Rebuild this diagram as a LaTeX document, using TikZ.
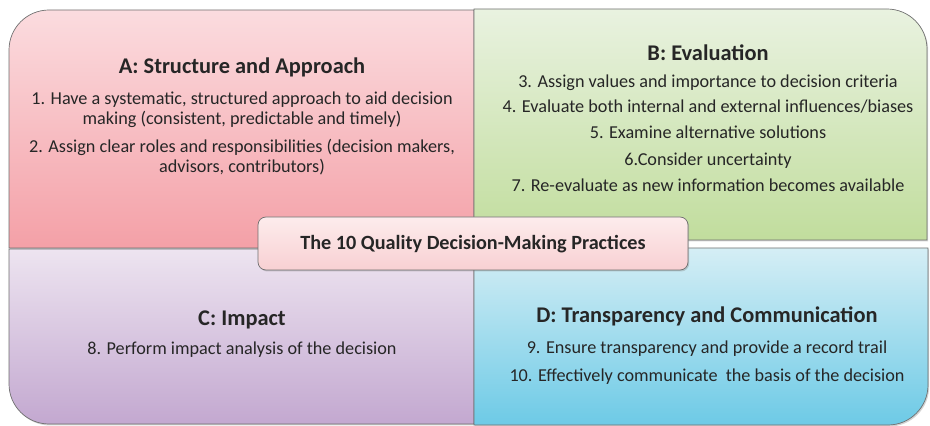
\documentclass[tikz,border=0pt]{standalone}
\usepackage{fontspec}
\setmainfont{Carlito}
\usepackage{tikz}
\usetikzlibrary{shadows}

\definecolor{txt}{HTML}{262626}
\definecolor{edge}{HTML}{6F6F6F}
\definecolor{pinkTop}{HTML}{FBDCDF}
\definecolor{pinkBot}{HTML}{F4A0A7}
\definecolor{greenTop}{HTML}{E9F2E0}
\definecolor{greenBot}{HTML}{C1DD9D}
\definecolor{lilacTop}{HTML}{EDE4F0}
\definecolor{lilacBot}{HTML}{C3A8D0}
\definecolor{cyanTop}{HTML}{D5EEF5}
\definecolor{cyanBot}{HTML}{6DCAE6}
\definecolor{hubTop}{HTML}{FDECEC}
\definecolor{hubBot}{HTML}{F8D0D3}

\tikzset{
  panel/.style={draw=edge, line width=0.7pt,
    drop shadow={opacity=0.35, shadow xshift=1.2pt, shadow yshift=-1.5pt}},
  heading/.style={text=txt, inner sep=0pt, anchor=base, font=\bfseries\fontsize{22.4pt}{26pt}\selectfont},
  item/.style={text=txt, inner sep=0pt, anchor=base, font=\fontsize{18.2pt}{22pt}\selectfont},
}

\begin{document}
\begin{tikzpicture}[x=1pt,y=1pt]
	\useasboundingbox (0,0) rectangle (930,426);
	
	% quadrants
	\draw[panel, top color=pinkTop, bottom color=pinkBot] (9,178) -- (9,376) arc[start angle=180, end angle=90, radius=40] -- (474,416) -- (474,178) -- cycle;
	\draw[panel, top color=lilacTop, bottom color=lilacBot] (9,177) -- (9,42) arc[start angle=180, end angle=270, radius=40] -- (474,2) -- (474,177) -- cycle;
	\draw[panel, top color=greenTop, bottom color=greenBot] (474,186) -- (474,417) -- (887,417) arc[start angle=90, end angle=0, radius=40] -- (927,186) -- cycle;
	\draw[panel, top color=cyanTop, bottom color=cyanBot] (474,178) -- (474,1) -- (888,1) arc[start angle=270, end angle=360, radius=40] -- (928,178) -- cycle;
	
	% A
	\node[heading] (titleA) at (242,352) {A: Structure and Approach};
	\node[item] (a1) at (242,321) {1. Have a systematic, structured approach to aid decision};
	\node[item] (a2) at (242,301) {making (consistent, predictable and timely)};
	\node[item] (a3) at (242,273) {2. Assign clear roles and responsibilities (decision makers,};
	\node[item] (a4) at (242,253) {advisors, contributors)};
	
	% B
	\node[heading] (titleB) at (708,365) {B: Evaluation};
	\node[item] (b1) at (708,338) {3. Assign values and importance to decision criteria};
	\node[item] (b2) at (708,313) {4. Evaluate both internal and external influences/biases};
	\node[item] (b3) at (708,287) {5. Examine alternative solutions};
	\node[item] (b4) at (708,260) {6.Consider uncertainty};
	\node[item] (b5) at (708,234) {7. Re-evaluate as new information becomes available};
	
	% C
	\node[heading] (titleC) at (242,100) {C: Impact};
	\node[item] (c1) at (242,71) {8. Perform impact analysis of the decision};
	
	% D
	\node[heading] (titleD) at (707,103) {D: Transparency and Communication};
	\node[item] (d1) at (707,72) {9. Ensure transparency and provide a record trail};
	\node[item] (d2) at (707,44) {10. Effectively communicate\ \ the basis of the decision};
	
	% centre label
	\draw[panel, top color=hubTop, bottom color=hubBot, rounded corners=8pt] (258,156) rectangle (688,209);
	\node[heading, font=\bfseries\fontsize{20.2pt}{24pt}\selectfont] (hub) at (473,176) {The 10 Quality Decision-Making Practices};
\end{tikzpicture}
\end{document}
